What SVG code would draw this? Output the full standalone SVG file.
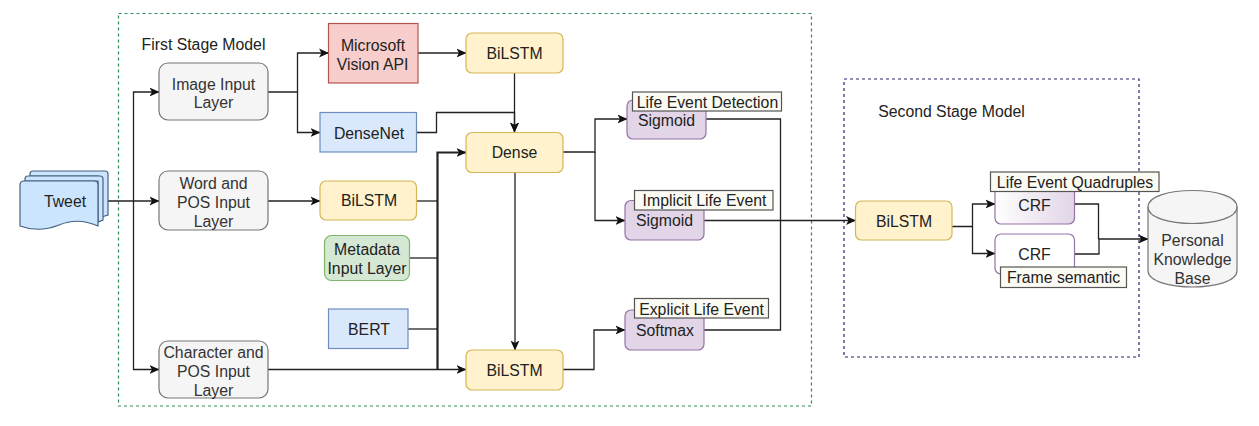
<svg xmlns="http://www.w3.org/2000/svg" width="1259" height="426" viewBox="0 0 1259 426">
<style>
text{font-family:"Liberation Sans",Arial,sans-serif;font-size:15.8px;fill:#222;text-anchor:middle}
.n{stroke-width:1.2}
.gray{fill:#f5f5f5;stroke:#777}
.gray+text,.gray~text{fill:#333}
.yel{fill:#fff2cc;stroke:#d6b656}
.blue{fill:#dae8fc;stroke:#6c8ebf}
.doc{fill:#cce5ff;stroke:#44617f}
.red{fill:#f8cecc;stroke:#b85450}
.grn{fill:#d5e8d4;stroke:#82b366}
.pur{fill:#e1d5e7;stroke:#9673a6}
.lab{fill:#fbfbf3;stroke:#555;stroke-width:1.2}
.frame{fill:none;stroke-width:1.2;stroke-dasharray:3 3}
#connectors path{fill:none;stroke:#222;stroke-width:1.3}
#connectors path.thick{stroke-width:2.2}
#connectors path.a{marker-end:url(#arr)}
</style>
<defs>
<marker id="arr" viewBox="0 0 10 10" refX="9.500" refY="5" markerUnits="userSpaceOnUse" markerWidth="10" markerHeight="10" orient="auto"><path d="M0 0.500L10 5L0 9.500L2.500 5Z" fill="#111"/></marker>
<linearGradient id="crf1" x1="0" x2="1" y1="0" y2="0"><stop offset="0" stop-color="#fff"/><stop offset="1" stop-color="#e1d5e7"/></linearGradient>
</defs>
<rect width="1259" height="426" fill="#fff"/>
<g id="first-stage"><rect class="frame" x="118.500" y="13.500" width="693" height="392.500" stroke="#2e8b57"/><text x="203.500" y="50">First Stage Model</text></g>
<g id="second-stage"><rect class="frame" x="844" y="79" width="295" height="278" stroke="#26266e"/><text x="951.500" y="117">Second Stage Model</text></g>
<g id="connectors">
<path class="a" d="M108 201H159"/>
<path class="a" d="M133.500 201V92H159"/>
<path class="a" d="M133.500 201V369.500H159"/>
<path class="a" d="M268 92H297.500V53H328.500"/>
<path class="a" d="M297.500 92V132.500H320"/>
<path class="a" d="M418 53H466"/>
<path class="a" d="M514.500 73V132"/>
<path class="a" d="M416.500 132.500H436.500V112.500H514.500V132"/>
<path class="a" d="M268 201H320"/>
<path d="M416.500 201H437"/>
<path d="M409.500 258H437"/>
<path d="M408 329H437"/>
<path class="a thick" d="M437.500 369.500V152.500H466"/>
<path class="a" d="M268 369.500H466"/>
<path class="a" d="M515 172V350"/>
<path class="a" d="M563 152H595V119H627"/>
<path class="a" d="M595 152V220.500H625"/>
<path class="a" d="M563 369.500H594V330H625"/>
<path d="M706 119H780.500V330H704"/>
<path class="a" d="M704 220.500H855.500"/>
<path class="a" d="M952 226.500H972.500V204H995"/>
<path class="a" d="M972.500 226.500V253.500H995"/>
<path d="M1074.500 204H1098.500V239"/>
<path d="M1074.500 254H1099V239"/>
<path class="a" d="M1098.500 239H1148"/>
</g>
<g id="tweet">
<path class="n doc" d="M30 174Q30 171 33 171H105Q108 171 108 174V215L98 218V176H30Z"/>
<path class="n doc" d="M25 179Q25 176 28 176H100Q103 176 103 179V220L98 222V181H25Z"/>
<path class="n doc" d="M20 185Q20 181 24 181H94Q98 181 98 185V226Q78 217 59 225Q39 233 20 226Z"/>
<text x="65" y="207">Tweet</text>
</g>
<g id="image-input"><rect class="n gray" x="159" y="63" width="109" height="57" rx="9"/><text x="213.500" y="89.500">Image Input</text><text x="213.500" y="108">Layer</text></g>
<g id="word-input"><rect class="n gray" x="159" y="171" width="109" height="59" rx="9"/><text x="213.500" y="189">Word and</text><text x="213.500" y="208">POS Input</text><text x="213.500" y="227">Layer</text></g>
<g id="char-input"><rect class="n gray" x="159" y="341" width="109" height="57" rx="9"/><text x="213.500" y="357.500">Character and</text><text x="213.500" y="376.500">POS Input</text><text x="213.500" y="395.500">Layer</text></g>
<g id="vision"><rect class="n red" x="328.500" y="23.500" width="89.500" height="59.500"/><text x="373" y="51">Microsoft</text><text x="372.500" y="69.500">Vision API</text></g>
<g id="densenet"><rect class="n blue" x="320" y="112.500" width="96.500" height="39.500"/><text x="369" y="139">DenseNet</text></g>
<g id="bilstm-word"><rect class="n yel" x="320" y="181" width="96.500" height="39" rx="6"/><text x="369" y="206">BiLSTM</text></g>
<g id="metadata"><rect class="n grn" x="324.500" y="235.500" width="85" height="45" rx="7"/><text x="367" y="255">Metadata</text><text x="367" y="274">Input Layer</text></g>
<g id="bert"><rect class="n blue" x="328.500" y="309" width="79.500" height="39.500"/><text x="369" y="335">BERT</text></g>
<g id="bilstm-top"><rect class="n yel" x="466" y="33" width="97" height="40" rx="6"/><text x="514.500" y="59">BiLSTM</text></g>
<g id="dense"><rect class="n yel" x="466" y="132.500" width="97" height="40" rx="6"/><text x="514.500" y="158">Dense</text></g>
<g id="bilstm-bottom"><rect class="n yel" x="466" y="350" width="97" height="40" rx="6"/><text x="514.500" y="376">BiLSTM</text></g>
<g id="sigmoid-1"><rect class="n pur" x="627" y="100" width="79" height="39" rx="6"/><text x="666.500" y="126">Sigmoid</text><rect class="lab" x="632.500" y="92" width="149" height="19"/><text x="707.500" y="108">Life Event Detection</text></g>
<g id="sigmoid-2"><rect class="n pur" x="625" y="200.500" width="79" height="39.500" rx="6"/><text x="664.500" y="226">Sigmoid</text><rect class="lab" x="634.500" y="190.500" width="138.500" height="19.500"/><text x="704.500" y="206">Implicit Life Event</text></g>
<g id="softmax"><rect class="n pur" x="625" y="310" width="79" height="40" rx="6"/><text x="665" y="336">Softmax</text><rect class="lab" x="634.500" y="298.500" width="134" height="19.500"/><text x="701.500" y="315">Explicit Life Event</text></g>
<g id="bilstm-second"><rect class="n yel" x="855.500" y="201" width="96.500" height="39" rx="6"/><text x="904" y="227">BiLSTM</text></g>
<g id="crf-1"><rect class="n" fill="url(#crf1)" stroke="#9673a6" x="995" y="184" width="79.500" height="40" rx="6"/><text x="1034.500" y="211">CRF</text><rect class="lab" x="990.500" y="172" width="168.500" height="19.500"/><text x="1075" y="188">Life Event Quadruples</text></g>
<g id="crf-2"><rect class="n" fill="#fff" stroke="#9673a6" x="995" y="234" width="79.500" height="40" rx="6"/><text x="1034.500" y="259.500">CRF</text><rect class="lab" x="1000.500" y="267" width="126" height="20.500"/><text x="1063.500" y="283">Frame semantic</text></g>
<g id="pkb"><path class="n gray" d="M1148 207C1148 185 1237 185 1237 207V270.500C1237 292.500 1148 292.500 1148 270.500Z"/><path class="n" fill="none" stroke="#777" d="M1148 207C1148 229 1237 229 1237 207"/><text x="1192.500" y="246">Personal</text><text x="1192.500" y="265">Knowledge</text><text x="1192.500" y="284">Base</text></g>
</svg>
